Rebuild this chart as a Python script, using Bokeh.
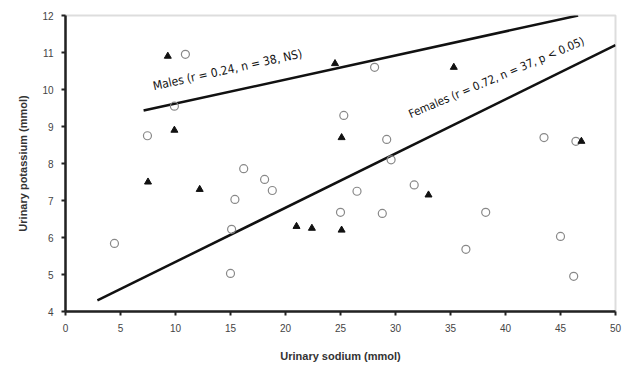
from bokeh.plotting import figure
from bokeh.models import Range1d, FixedTicker, Label
from bokeh.embed import file_html
from bokeh.resources import INLINE

# Males (filled triangles)
male_na = [9.3, 9.9, 7.5, 12.2, 21.0, 22.4, 25.1, 25.1, 24.5, 35.3, 33.0, 46.9]
male_k = [10.9, 8.9, 7.5, 7.3, 6.3, 6.25, 6.2, 8.7, 10.7, 10.6, 7.15, 8.6]

# Females (open circles)
female_na = [10.9, 7.45, 9.9, 16.2, 18.1, 18.8, 15.4, 15.1, 15.0, 4.45, 28.1, 25.3,
             29.2, 29.6, 26.5, 31.7, 25.0, 28.8, 38.2, 43.5, 46.4, 36.4, 45.0, 46.2]
female_k = [10.95, 8.75, 9.55, 7.86, 7.57, 7.27, 7.03, 6.22, 5.03, 5.84, 10.6, 9.3,
            8.65, 8.1, 7.25, 7.42, 6.68, 6.65, 6.68, 8.7, 8.6, 5.68, 6.03, 4.95]

# Regression lines (endpoints)
male_line_x = [7.1, 46.6]
male_line_y = [9.43, 12.0]
female_line_x = [2.9, 50.0]
female_line_y = [4.3, 11.2]

x_ticks = [0, 5, 10, 15, 20, 25, 30, 35, 40, 45, 50]
y_ticks = [4, 5, 6, 7, 8, 9, 10, 11, 12]

p = figure(width=624, height=370, output_backend="svg", toolbar_location=None,
           x_range=Range1d(0, 50), y_range=Range1d(4, 12),
           min_border_left=65, min_border_right=9, min_border_top=15, min_border_bottom=59)
p.background_fill_color = "white"
p.border_fill_color = "white"
p.outline_line_color = "#dddddd"
p.outline_line_width = 2
p.grid.visible = False

for ax in (p.xaxis[0], p.yaxis[0]):
    ax.axis_line_width = 2.5
    ax.axis_line_color = "#222222"
    ax.major_tick_line_color = "#222222"
    ax.major_tick_line_width = 2
    ax.major_tick_out = 4
    ax.major_tick_in = 0
    ax.minor_tick_line_color = None
    ax.major_label_text_font = "Liberation Sans"
    ax.major_label_text_font_size = "10px"
    ax.major_label_text_color = "#444444"
    ax.axis_label_text_font = "Liberation Sans"
    ax.axis_label_text_font_size = "11px"
    ax.axis_label_text_font_style = "bold"
    ax.axis_label_text_color = "#333333"

p.xaxis.ticker = FixedTicker(ticks=x_ticks)
p.yaxis.ticker = FixedTicker(ticks=y_ticks)
p.xaxis.axis_label = "Urinary sodium (mmol)"
p.yaxis.axis_label = "Urinary potassium (mmol)"
p.xaxis.major_label_standoff = 8
p.xaxis.axis_label_standoff = 15
p.yaxis.major_label_standoff = 8
p.yaxis.axis_label_standoff = 10

p.line(male_line_x, male_line_y, line_color="#111111", line_width=2.5)
p.line(female_line_x, female_line_y, line_color="#111111", line_width=2.5)

p.scatter(female_na, female_k, marker="circle", size=8, fill_color=None,
          line_color="#888888", line_width=1.2)
p.scatter(male_na, male_k, marker="triangle", size=7, fill_color="#111111",
          line_color="#111111")

p.add_layout(Label(x=8.1, y=9.9, text="Males (r = 0.24, n = 38, NS)",
                   angle=12.5, angle_units="deg", text_font="DejaVu Sans Condensed",
                   text_font_size="12px", text_color="#111111"))
p.add_layout(Label(x=31.5, y=9.15, text="Females (r = 0.72, n = 37, p < 0.05)",
                   angle=23, angle_units="deg", text_font="DejaVu Sans Condensed",
                   text_font_size="11.5px", text_color="#111111"))

open("out.html", "w").write(file_html(p, INLINE))
